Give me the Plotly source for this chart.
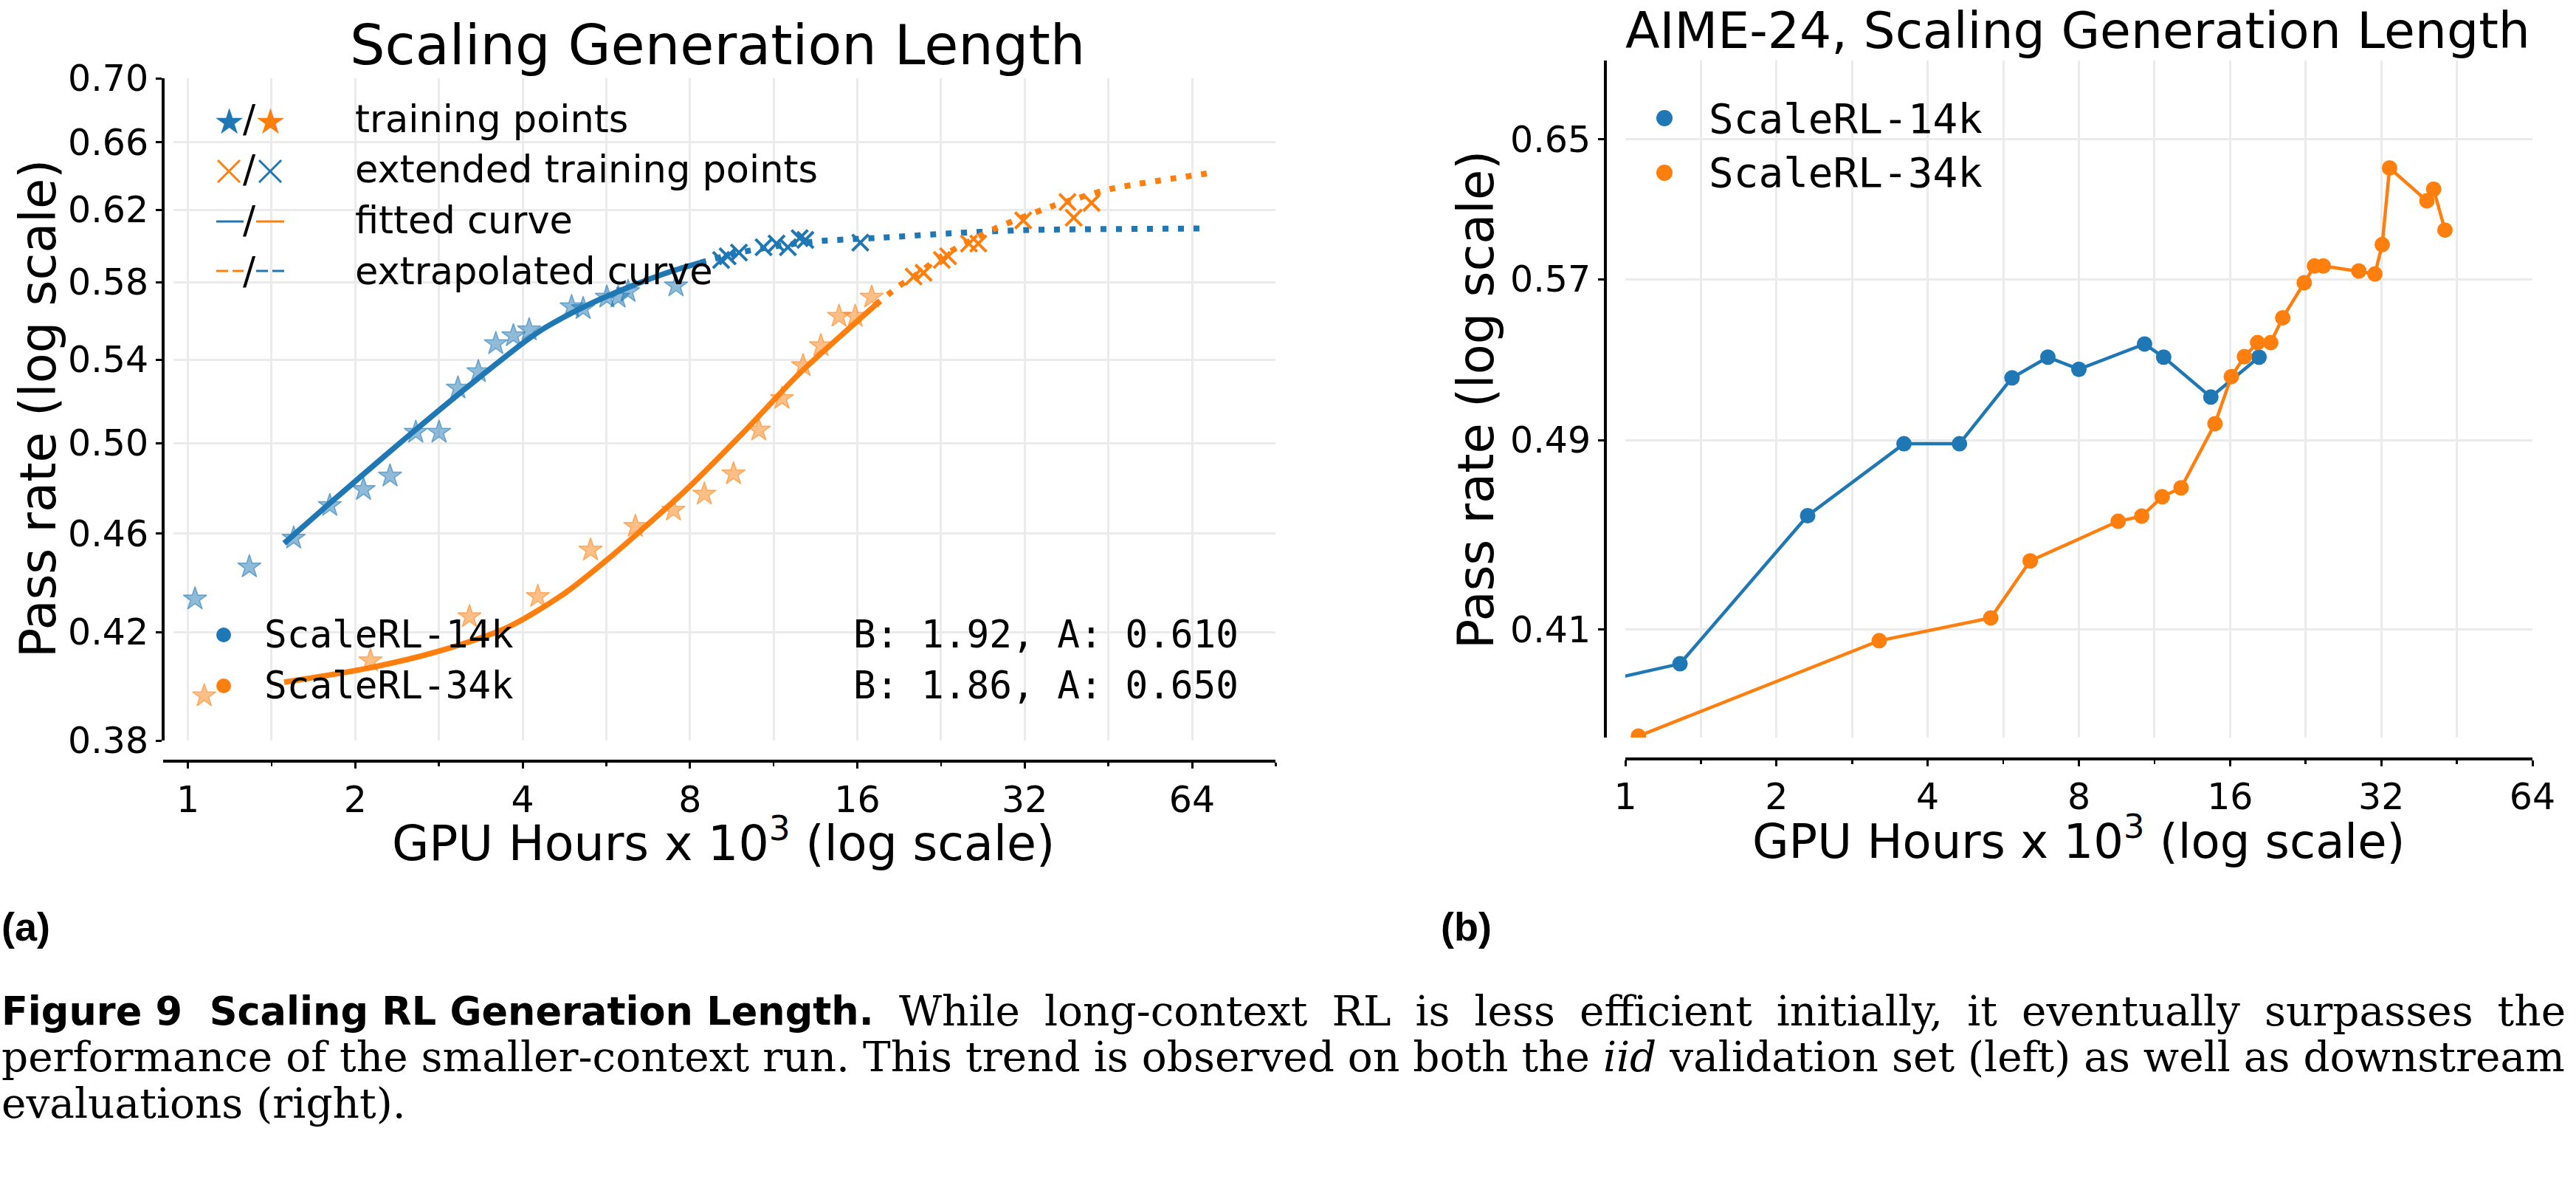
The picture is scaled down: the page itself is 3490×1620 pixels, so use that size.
import math
import plotly.graph_objects as go

W, H = 3490, 1620
BLUE = "#1f77b4"
ORANGE = "#ff7f0e"

# ---------------- data: (a) iid validation ----------------
blue_train_x = [1.03, 1.29, 1.55, 1.80, 2.07, 2.31, 2.57, 2.83, 3.06, 3.33, 3.58, 3.85, 4.11,
                4.90, 5.14, 5.67, 5.94, 6.19, 7.55]
blue_train_y = [0.433, 0.446, 0.458, 0.472, 0.479, 0.485, 0.505, 0.505, 0.526, 0.534, 0.548,
                0.552, 0.555, 0.567, 0.566, 0.572, 0.572, 0.575, 0.578]
blue_ext_x = [9.10, 9.35, 9.80, 10.85, 11.45, 12.0, 12.6, 12.9, 16.2]
blue_ext_y = [0.592, 0.594, 0.596, 0.599, 0.601, 0.599, 0.604, 0.603, 0.6015]
blue_fit_x = [1.49, 1.785, 2.054, 2.453, 2.849, 3.361, 4.049, 4.39, 5.23, 6.23, 7.42, 8.34]
blue_fit_y = [0.4558, 0.4722, 0.4851, 0.5018, 0.5160, 0.5317, 0.5493, 0.5561, 0.5678, 0.5775,
              0.5859, 0.5905]
blue_extrap_x = [8.34, 9.8, 11.6, 13.8, 17.8, 23.6, 32.6, 67.6]
blue_extrap_y = [0.5905, 0.5960, 0.5998, 0.6025, 0.6043, 0.6067, 0.6086, 0.6094]

orange_train_x = [1.07, 2.13, 3.21, 4.26, 5.30, 6.38, 7.47, 8.49, 9.58, 10.64, 11.71, 12.78,
                  13.76, 14.83, 15.86, 16.98]
orange_train_y = [0.396, 0.409, 0.426, 0.434, 0.453, 0.463, 0.470, 0.477, 0.486, 0.506, 0.521,
                  0.537, 0.547, 0.562, 0.562, 0.572]
orange_ext_x = [20.2, 21.05, 22.7, 23.3, 25.4, 26.4, 31.8, 38.2, 39.2, 42.2]
orange_ext_y = [0.583, 0.585, 0.592, 0.594, 0.601, 0.601, 0.614, 0.6245, 0.6155, 0.624]
orange_fit_x = [1.49, 2.105, 2.823, 3.774, 4.776, 5.809, 6.385, 7.885, 9.947, 12.585, 14.98, 17.25]
orange_fit_y = [0.4010, 0.4062, 0.4126, 0.4220, 0.4355, 0.4509, 0.4592, 0.4790, 0.5045, 0.5331,
                0.5523, 0.5679]
orange_extrap_x = [17.25, 19.04, 20.0, 22.69, 28.3, 35.8, 45.7, 68.0]
orange_extrap_y = [0.5679, 0.5781, 0.5820, 0.5940, 0.6094, 0.6220, 0.6321, 0.6411]

fit_labels = ["B: 1.92, A: 0.610", "B: 1.86, A: 0.650"]
series_names = ["ScaleRL-14k", "ScaleRL-34k"]

# ---------------- data: (b) AIME-24 ----------------
aime_blue_x = [0.9, 1.285, 2.307, 3.588, 4.627, 5.888, 6.94, 8.0, 10.81, 11.8, 14.65, 18.27]
aime_blue_y = [0.3906, 0.3971, 0.4564, 0.4883, 0.4883, 0.5195, 0.5297, 0.5237, 0.5363, 0.5297,
               0.5102, 0.5297]
aime_orange_x = [1.062, 3.203, 5.34, 6.40, 9.58, 10.67, 11.72, 12.78, 14.93, 16.09, 17.09, 18.15,
                 19.28, 20.37, 22.48, 23.56, 24.53, 28.87, 31.08, 32.14, 33.24, 39.45, 40.68,
                 42.85]
aime_orange_y = [0.371, 0.4058, 0.4146, 0.4374, 0.4540, 0.4562, 0.4646, 0.4685, 0.4976, 0.5201,
                 0.5300, 0.5370, 0.5370, 0.5497, 0.5681, 0.5771, 0.5771, 0.5744, 0.5728, 0.5888,
                 0.6328, 0.6135, 0.6203, 0.5969]

# ---------------- ticks ----------------
x_ticks = [1, 2, 4, 8, 16, 32, 64]
x_minor = [1.4142, 2.8284, 5.6569, 11.314, 22.627, 45.255, 90.51]
left_y_ticks = [0.38, 0.42, 0.46, 0.50, 0.54, 0.58, 0.62, 0.66, 0.70]
right_y_ticks = [0.41, 0.49, 0.57, 0.65]


def PX(x):
    return x / W


def PY(y):
    return 1 - y / H


FONT = "DejaVu Sans"
MONO = "DejaVu Sans Mono"
GRID = "#ebebeb"

fig = go.Figure()

# ----- (a) traces -----
fig.add_trace(go.Scatter(x=blue_train_x, y=blue_train_y, mode="markers", xaxis="x", yaxis="y",
                         marker=dict(symbol="star", size=24, color="rgba(31,119,180,0.5)",
                                     line=dict(color="rgba(31,119,180,0.55)", width=1.5))))
fig.add_trace(go.Scatter(x=orange_train_x, y=orange_train_y, mode="markers", xaxis="x", yaxis="y",
                         marker=dict(symbol="star", size=24, color="rgba(255,127,14,0.5)",
                                     line=dict(color="rgba(255,127,14,0.55)", width=1.5))))
fig.add_trace(go.Scatter(x=blue_fit_x, y=blue_fit_y, mode="lines", xaxis="x", yaxis="y",
                         line=dict(color=BLUE, width=7.5, shape="spline", smoothing=0.8)))
fig.add_trace(go.Scatter(x=orange_fit_x, y=orange_fit_y, mode="lines", xaxis="x", yaxis="y",
                         line=dict(color=ORANGE, width=7.5, shape="spline", smoothing=0.8)))
fig.add_trace(go.Scatter(x=blue_extrap_x, y=blue_extrap_y, mode="lines", xaxis="x", yaxis="y",
                         line=dict(color=BLUE, width=8, dash="8px,13px", shape="spline",
                                   smoothing=0.6)))
fig.add_trace(go.Scatter(x=orange_extrap_x, y=orange_extrap_y, mode="lines", xaxis="x", yaxis="y",
                         line=dict(color=ORANGE, width=8, dash="8px,13px", shape="spline",
                                   smoothing=0.6)))
fig.add_trace(go.Scatter(x=blue_ext_x, y=blue_ext_y, mode="markers", xaxis="x", yaxis="y",
                         marker=dict(symbol="x-thin", size=22, color=BLUE,
                                     line=dict(color=BLUE, width=4))))
fig.add_trace(go.Scatter(x=orange_ext_x, y=orange_ext_y, mode="markers", xaxis="x", yaxis="y",
                         marker=dict(symbol="x-thin", size=22, color=ORANGE,
                                     line=dict(color=ORANGE, width=4))))

# ----- (b) traces -----
fig.add_trace(go.Scatter(x=aime_blue_x, y=aime_blue_y, mode="lines+markers", xaxis="x2", yaxis="y2",
                         line=dict(color=BLUE, width=4.5), marker=dict(color=BLUE, size=21)))
fig.add_trace(go.Scatter(x=aime_orange_x, y=aime_orange_y, mode="lines+markers", xaxis="x2",
                         yaxis="y2", line=dict(color=ORANGE, width=4.5),
                         marker=dict(color=ORANGE, size=21)))

fig.update_traces(showlegend=False, hoverinfo="skip")

tickfont = dict(family=FONT, size=49, color="black")


def xaxis_cfg(domain, rng, pos, minor_vals):
    return dict(type="log", domain=domain, range=rng, anchor="free", position=pos,
                tickmode="array", tickvals=x_ticks, ticktext=[str(v) for v in x_ticks],
                ticks="outside", ticklen=8, tickwidth=3, tickcolor="black",
                showline=True, linecolor="black", linewidth=4, zeroline=False,
                showgrid=True, gridcolor=GRID, gridwidth=3, tickfont=tickfont,
                automargin=False,
                minor=dict(tickmode="array", tickvals=minor_vals, ticks="outside", ticklen=5,
                           tickwidth=2.5, tickcolor="black", showgrid=True, gridcolor=GRID,
                           gridwidth=3))


def yaxis_cfg(domain, rng, pos, ticks):
    return dict(type="log", domain=domain, range=rng, anchor="free", position=pos,
                tickmode="array", tickvals=ticks, ticktext=["%.2f" % v for v in ticks],
                ticks="outside", ticklen=8, tickwidth=3, tickcolor="black",
                showline=True, linecolor="black", linewidth=4, zeroline=False,
                showgrid=True, gridcolor=GRID, gridwidth=3, tickfont=tickfont,
                automargin=False)


fig.update_layout(
    width=W, height=H, margin=dict(l=0, r=0, t=0, b=0, pad=0, autoexpand=False),
    autosize=False,
    paper_bgcolor="white", plot_bgcolor="white", showlegend=False,
    xaxis=xaxis_cfg([235 / W, 1728.4 / W], [math.log10(0.942), math.log10(90.51)], PY(1031),
                    x_minor),
    yaxis=yaxis_cfg([PY(1003), PY(106)], [math.log10(0.38), math.log10(0.70)], 221 / W,
                    left_y_ticks),
    xaxis2=xaxis_cfg([2202 / W, 3431 / W], [0, math.log10(64)], PY(1027), x_minor[:-1]),
    yaxis2=yaxis_cfg([PY(999), PY(82)], [math.log10(0.3705), math.log10(0.700)], 2174 / W,
                     right_y_ticks),
)
fig.layout.xaxis2.linewidth = 3.5
fig.layout.yaxis2.linewidth = 3.5

ann = []
shapes = []


def text(x, y, s, size, family=FONT, color="black", xanchor="center", yanchor="middle",
         angle=0):
    ann.append(dict(x=PX(x), y=PY(y), xref="paper", yref="paper", text=s, showarrow=False,
                    xanchor=xanchor, yanchor=yanchor, textangle=angle,
                    font=dict(family=family, size=size, color=color)))


def line(x0, y0, x1, y1, color, width, dash="solid"):
    shapes.append(dict(type="line", xref="paper", yref="paper", x0=PX(x0), y0=PY(y0),
                       x1=PX(x1), y1=PY(y1), line=dict(color=color, width=width, dash=dash)))


def dot(cx, cy, r, color):
    shapes.append(dict(type="circle", xref="paper", yref="paper", x0=PX(cx - r), x1=PX(cx + r),
                       y0=PY(cy + r), y1=PY(cy - r), fillcolor=color, line=dict(width=0)))


# x spine of (a) runs under the y spine
line(221, 1031, 237, 1031, "black", 4)

# titles
text(972, 61, "Scaling Generation Length", 75)
text(2815, 41, "AIME-24, Scaling Generation Length", 68)
# axis labels
xl = "GPU Hours x 10<sup>3</sup> (log scale)"
text(980, 1138, xl, 65)
text(2816, 1135, xl, 64)
text(52, 554, "Pass rate (log scale)", 67, angle=-90)
text(2000, 541, "Pass rate (log scale)", 67, angle=-90)

# (a) upper legend
leg_rows = [("training points", 162), ("extended training points", 230),
            ("fitted curve", 298), ("extrapolated curve", 367)]
for label, yy in leg_rows:
    text(479, yy, label, 51, xanchor="left")
    text(338, yy, "/", 51)
text(310, 164, "★", 48, color=BLUE)
text(366, 164, "★", 48, color=ORANGE)
for cx, col in ((310, ORANGE), (366, BLUE)):
    line(cx - 15, 217, cx + 15, 247, col, 3)
    line(cx - 15, 247, cx + 15, 217, col, 3)
line(293, 300, 330, 300, BLUE, 3)
line(347, 300, 385, 300, ORANGE, 3)
line(293, 367, 330, 367, ORANGE, 3, dash="16px,6px")
line(347, 367, 385, 367, BLUE, 3, dash="16px,6px")

# (a) lower legend & fit annotations
for (name, yy, col), lab in zip(((series_names[0], 859, BLUE), (series_names[1], 928, ORANGE)),
                                fit_labels):
    dot(303, yy + 1, 10, col)
    text(356, yy, name, 51, family=MONO, xanchor="left")
    text(1680, yy, lab, 51, family=MONO, xanchor="right")

# (b) legend
for name, yy, col in ((series_names[0], 160, BLUE), (series_names[1], 234, ORANGE)):
    dot(2255, yy, 11, col)
    text(2313, yy, name, 56, family=MONO, xanchor="left")

# subplot labels
text(0, 1255, "<b>(a)</b>", 54, family="Liberation Sans", xanchor="left")
text(1950, 1255, "<b>(b)</b>", 54, family="Liberation Sans", xanchor="left")

# caption
SERIF = "DejaVu Serif"
text(0, 1369, "<b>Figure 9  Scaling RL Generation Length.</b>", 52.5,
     family="DejaVu Sans", xanchor="left")
text(1216, 1369, "<span style='word-spacing:15px'>While long-context RL is less efficient "
     "initially, it eventually surpasses the</span>", 56.5, family=SERIF, xanchor="left")
text(0, 1431, "performance of the smaller-context run. This trend is observed on both the "
     "<i>iid</i> validation set (left) as well as downstream", 56.5, family=SERIF,
     xanchor="left")
text(0, 1494, "evaluations (right).", 56.5, family=SERIF, xanchor="left")

fig.update_layout(annotations=ann, shapes=shapes)
fig.write_html("out.html", config={"displayModeBar": False, "staticPlot": True},
               post_script="document.body.style.margin='0px';"
               "document.documentElement.style.overflow='hidden';")
